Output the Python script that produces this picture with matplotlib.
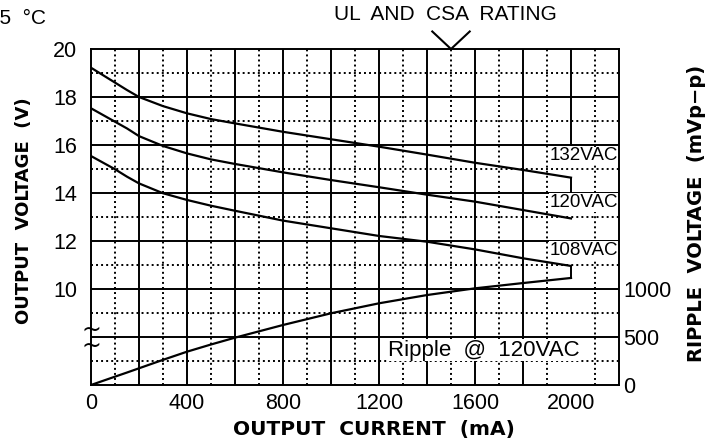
import matplotlib
matplotlib.use("Agg")
import matplotlib.pyplot as plt
import numpy as np

# ---- data ----
current_ma = [0, 100, 150, 200, 300, 400, 500, 600, 800, 1000, 1200, 1400, 1600, 1800, 2000]
v_132 = [19.22, 18.60, 18.29, 18.00, 17.62, 17.32, 17.08, 16.90, 16.55, 16.24, 15.93, 15.60, 15.26, 14.96, 14.64]
v_120 = [17.53, 16.97, 16.69, 16.37, 15.96, 15.65, 15.40, 15.21, 14.86, 14.54, 14.24, 13.93, 13.64, 13.29, 12.94]
v_108 = [15.54, 14.99, 14.68, 14.40, 13.99, 13.71, 13.47, 13.26, 12.85, 12.53, 12.21, 11.97, 11.65, 11.28, 10.96]
ripple_mv = [0, 87, 130, 174, 262, 347, 422, 493, 625, 747, 851, 937, 1007, 1062, 1115]

series_labels = ["132VAC", "120VAC", "108VAC"]
x_ticks = [0, 400, 800, 1200, 1600, 2000]
v_ticks = [10, 12, 14, 16, 18, 20]
ripple_ticks = [0, 500, 1000]
ul_rating_ma = 1500

# ---- geometry ----
W, H = 722, 442
fig = plt.figure(figsize=(W / 100, H / 100), dpi=100)
L, R, T, B = 91, 619, 49, 385
ax = fig.add_axes([L / W, 1 - B / H, (R - L) / W, (B - T) / H])

XMAX = 2200
YMIN, YMAX = 6, 20
MV_PER_UNIT = 250.0  # ripple scale: 1000 mV spans 4 voltage-grid units
ax.set_xlim(0, XMAX)
ax.set_ylim(YMIN, YMAX)

lw_major = 1.4
# grid
for xv in np.arange(100, XMAX, 200):
    ax.axvline(xv, color="black", lw=1.4, ls=(0, (1, 1.6)), zorder=1)
for yv in np.arange(YMIN + 1, YMAX, 2):
    ax.axhline(yv, color="black", lw=1.4, ls=(0, (1, 1.6)), zorder=1)
for xv in np.arange(200, XMAX, 200):
    if xv == 2000:
        continue
    ax.axvline(xv, color="black", lw=lw_major, zorder=1)
for yv in np.arange(YMIN + 2, YMAX, 2):
    ax.axhline(yv, color="black", lw=lw_major, zorder=1)

# partial vertical at 2000 (as in reference)
ax.plot([2000, 2000], [16, 20], color="black", lw=lw_major, zorder=1)
ax.plot([current_ma[-1]] * 2, [v_132[-1], 14], color="black", lw=lw_major, zorder=1)
ripple_units = [YMIN + r / MV_PER_UNIT for r in ripple_mv]
ax.plot([current_ma[-1]] * 2, [v_108[-1], ripple_units[-1]], color="black", lw=lw_major, zorder=1)

for s in ax.spines.values():
    s.set_linewidth(lw_major)
    s.set_zorder(3)

# curves
for v in (v_132, v_120, v_108):
    ax.plot(current_ma, v, color="black", lw=1.6, zorder=4)
ax.plot(current_ma, ripple_units, color="black", lw=1.6, zorder=4)

# ticks
tick_font = dict(family="Liberation Sans", size=15.5)
ax.set_xticks(x_ticks)
ax.set_xticklabels([str(x) for x in x_ticks], fontdict=tick_font)
ax.set_yticks(v_ticks)
ax.set_yticklabels([str(v) for v in v_ticks], fontdict=tick_font)
ax.tick_params(length=0, pad=6)
ax.tick_params(axis="y", pad=10)

ax2 = ax.twinx()
ax2.set_ylim(0, (YMAX - YMIN) * MV_PER_UNIT)
ax2.set_yticks(ripple_ticks)
ax2.set_yticklabels([str(r) for r in ripple_ticks], fontdict=tick_font)
ax2.tick_params(length=0, pad=3)
for s in ax2.spines.values():
    s.set_visible(False)

# series labels with white boxes
label_y = [15.55, 13.6, 11.6]
for lab, yv in zip(series_labels, label_y):
    ax.text(2195, yv, lab, ha="right", va="center", family="Liberation Sans", fontsize=13.5,
            zorder=2, bbox=dict(facecolor="white", edgecolor="none", pad=0.5))
ax.text(1237, 7.45, "Ripple  @  120VAC", ha="left", va="center", family="Liberation Sans",
        fontsize=16, zorder=2, bbox=dict(facecolor="white", edgecolor="none", pad=0.5))

# axis break symbol (two stacked tildes)
ax.text(0, 7.98, "~\n~", ha="center", va="center", fontsize=17, family="DejaVu Sans",
        linespacing=0.55, zorder=5, clip_on=False)

# UL rating marker
arrow_h = 0.73
arrow_w = 78
ax.plot([ul_rating_ma - arrow_w, ul_rating_ma, ul_rating_ma + arrow_w],
        [YMAX + arrow_h, YMAX, YMAX + arrow_h], color="black", lw=1.5, clip_on=False)
fig.text(445 / W, 1 - 15 / H, "UL  AND  CSA  RATING", ha="center", va="center",
         family="Liberation Sans", fontsize=15)
fig.text(46 / W, 1 - 18 / H, "25  \u00b0C", ha="right", va="center",
         family="Liberation Sans", fontsize=15)

# axis labels
fig.text(374 / W, 1 - 429 / H, "OUTPUT  CURRENT  (mA)", ha="center", va="center",
         family="DejaVu Sans", weight="bold", fontsize=14.5)
fig.text(24 / W, 1 - 211 / H, "OUTPUT  VOLTAGE  (V)", ha="center", va="center",
         rotation=90, family="DejaVu Sans", weight="bold", fontsize=13)
fig.text(697 / W, 1 - 213 / H, "RIPPLE  VOLTAGE  (mVp\u2212p)", ha="center", va="center",
         rotation=90, family="DejaVu Sans", weight="bold", fontsize=14)

fig.savefig("out.png", dpi=100)
